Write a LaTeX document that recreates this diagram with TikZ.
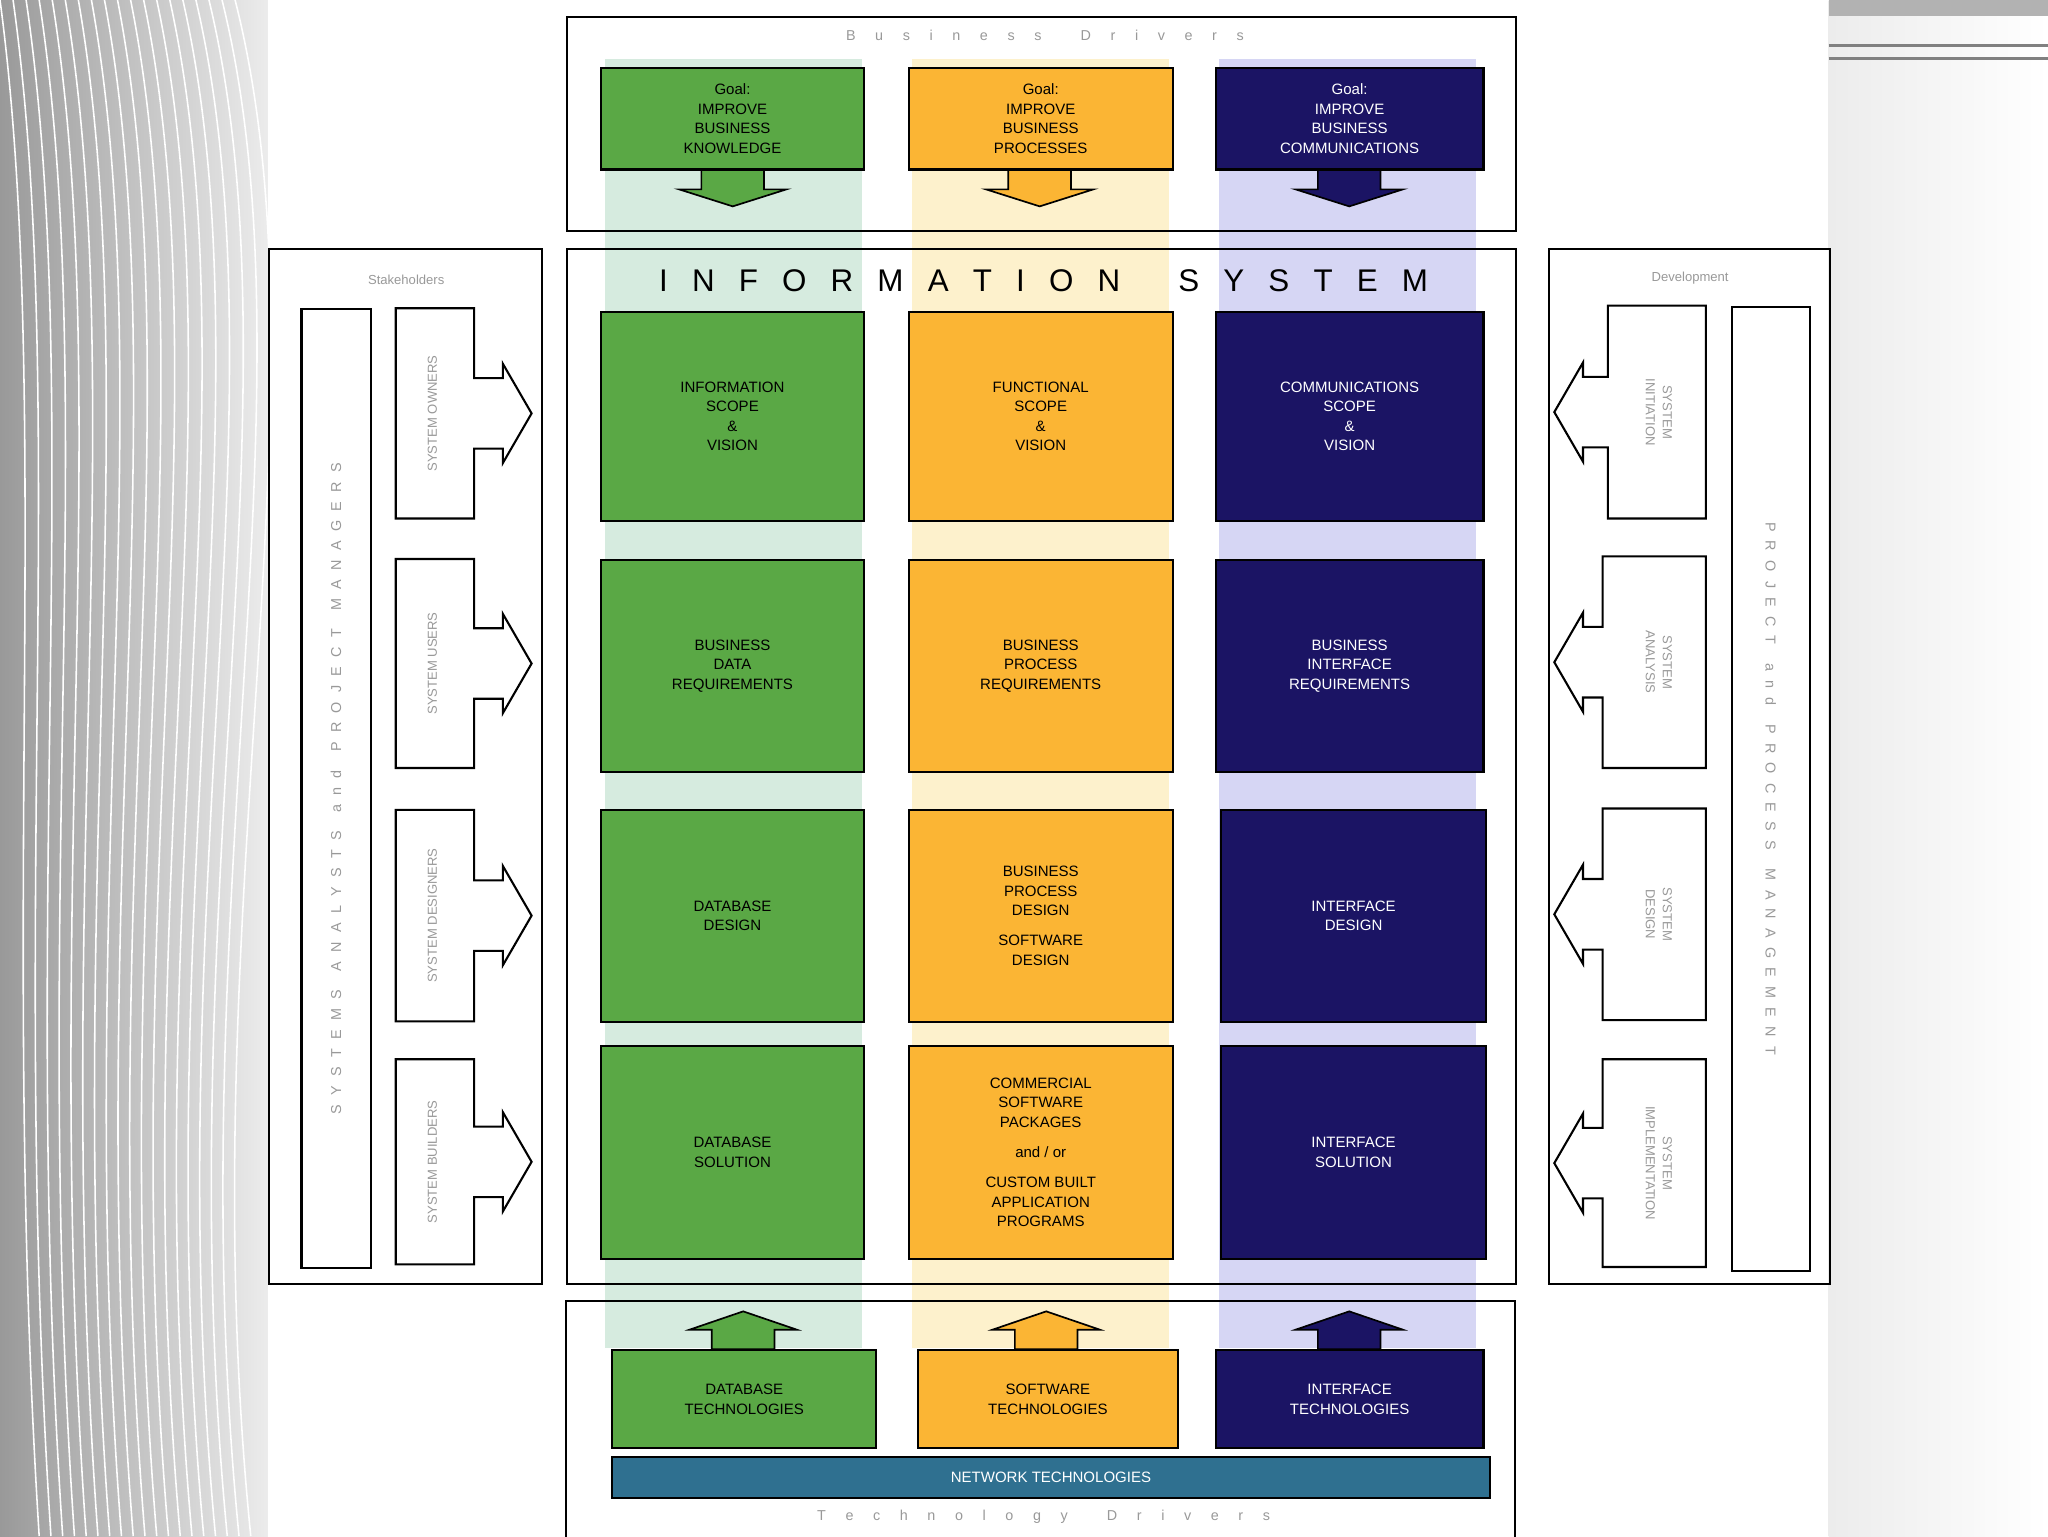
\documentclass[tikz,border=0pt]{standalone}
\usepackage{fontspec}
\setmainfont{Liberation Sans}
\newcommand\ga{\hspace{18.5pt}}
\newcommand\gb{\hspace{15pt}}
\newcommand\gc{\hspace{7.1pt}}
\begin{document}
\begin{tikzpicture}[x=1pt,y=-1pt,
  gcol/.style={fill=colG,draw=black,line width=1.6pt},
  ycol/.style={fill=colY,draw=black,line width=1.6pt},
  pcol/.style={fill=colP,draw=black,line width=1.6pt},
  frame/.style={draw=black,line width=1.6pt},
  lbl/.style={font=\fontsize{11.5}{15}\selectfont,align=center,text=black},
  wlbl/.style={font=\fontsize{11.5}{15}\selectfont,align=center,text=white},
  glbl/.style={font=\fontsize{10}{13}\selectfont,align=center,text=gray!80}]
\definecolor{colG}{HTML}{5AA845}
\definecolor{colY}{HTML}{FBB534}
\definecolor{colP}{HTML}{1B1464}
\definecolor{stG}{HTML}{D6EBDF}
\definecolor{stY}{HTML}{FDF1CC}
\definecolor{stP}{HTML}{D6D6F4}
\definecolor{net}{HTML}{2F7090}
\useasboundingbox (0,0) rectangle (1568,1176);
\fill[white,rounded corners=12pt] (0,0) rectangle (1568,1176);
\shade[left color=gray!80,right color=gray!15] (0,0) rectangle (205,1176);
\foreach \i in {0,...,18} {\draw[white,line width=1.2pt] (10*\i,0) .. controls (40+12*\i,300) and (8*\i,700) .. (30+9*\i,1176);}
\shade[left color=gray!15,right color=white] (1400,0) rectangle (1568,1176);
\fill[gray!60] (1400,0) rectangle (1568,12);
\draw[gray,line width=2pt] (1400,35) -- (1568,35) (1400,45) -- (1568,45);
% stripes
\fill[stG] (463,45) rectangle (660,1032);
\fill[stY] (698,45) rectangle (895,1032);
\fill[stP] (933,45) rectangle (1130,1032);
% business drivers
\node[frame,minimum width=727,minimum height=164,anchor=north west] (bd) at (433,12) {};
\node[glbl,font=\fontsize{11}{13}\selectfont] (bdl) at (800,27) {B\gb u\gb s\gb i\gb n\gb e\gb s\gb s\gb\gb D\gb r\gb i\gb v\gb e\gb r\gb s};
\newcommand\downarr[2]{\filldraw[#1,line width=1.3pt] (#2-24,129) -- (#2+24,129) -- (#2+24,145) -- (#2+41,145) -- (#2,158) -- (#2-41,145) -- (#2-24,145) -- cycle;}
\downarr{fill=colG}{561}
\downarr{fill=colY}{796}
\downarr{fill=colP}{1033}
\node[gcol,minimum width=202,minimum height=78,anchor=north west,lbl] (g1) at (459,51) {Goal:\\IMPROVE\\BUSINESS\\KNOWLEDGE};
\node[ycol,minimum width=202,minimum height=78,anchor=north west,lbl] (g2) at (695,51) {Goal:\\IMPROVE\\BUSINESS\\PROCESSES};
\node[pcol,minimum width=205,minimum height=78,anchor=north west,wlbl] (g3) at (930,51) {Goal:\\IMPROVE\\BUSINESS\\COMMUNICATIONS};
% information system
\node[frame,minimum width=727,minimum height=792,anchor=north west] (is) at (433,190) {};
\node[font=\fontsize{24}{26}\selectfont] (ist) at (799,215) {I\ga N\ga F\ga O\ga R\ga M\ga A\ga T\ga I\ga O\ga N\ga\hspace{26pt}S\ga Y\ga S\ga T\ga E\ga M};
\node[gcol,minimum width=202,minimum height=160,anchor=north west,lbl] (a1) at (459,238) {INFORMATION\\SCOPE\\\&\\VISION};
\node[ycol,minimum width=202,minimum height=160,anchor=north west,lbl] (b1) at (695,238) {FUNCTIONAL\\SCOPE\\\&\\VISION};
\node[pcol,minimum width=205,minimum height=160,anchor=north west,wlbl] (c1) at (930,238) {COMMUNICATIONS\\SCOPE\\\&\\VISION};
\node[gcol,minimum width=202,minimum height=162,anchor=north west,lbl] (a2) at (459,428) {BUSINESS\\DATA\\REQUIREMENTS};
\node[ycol,minimum width=202,minimum height=162,anchor=north west,lbl] (b2) at (695,428) {BUSINESS\\PROCESS\\REQUIREMENTS};
\node[pcol,minimum width=205,minimum height=162,anchor=north west,wlbl] (c2) at (930,428) {BUSINESS\\INTERFACE\\REQUIREMENTS};
\node[gcol,minimum width=202,minimum height=163,anchor=north west,lbl] (a3) at (459,619) {DATABASE\\DESIGN};
\node[ycol,minimum width=202,minimum height=163,anchor=north west,lbl] (b3) at (695,619) {BUSINESS\\PROCESS\\DESIGN\\[8pt]SOFTWARE\\DESIGN};
\node[pcol,minimum width=203,minimum height=163,anchor=north west,wlbl] (c3) at (934,619) {INTERFACE\\DESIGN};
\node[gcol,minimum width=202,minimum height=163,anchor=north west,lbl] (a4) at (459,800) {DATABASE\\SOLUTION};
\node[ycol,minimum width=202,minimum height=163,anchor=north west,lbl] (b4) at (695,800) {COMMERCIAL\\SOFTWARE\\PACKAGES\\[8pt]and / or\\[8pt]CUSTOM BUILT\\APPLICATION\\PROGRAMS};
\node[pcol,minimum width=203,minimum height=163,anchor=north west,wlbl] (c4) at (934,800) {INTERFACE\\SOLUTION};
% stakeholders
\node[frame,minimum width=209,minimum height=792,anchor=north west] (sh) at (205,190) {};
\node[glbl] (shl) at (311,214) {Stakeholders};
\node[frame,minimum width=53,minimum height=734,anchor=north west] (sa) at (230,236) {};
\node[glbl,rotate=90,font=\fontsize{11}{13}\selectfont] (sat) at (sa.center) {S\gc Y\gc S\gc T\gc E\gc M\gc S\gc\gc A\gc N\gc A\gc L\gc Y\gc S\gc T\gc S\gc\gc a\gc n\gc d\gc\gc P\gc R\gc O\gc J\gc E\gc C\gc T\gc\gc M\gc A\gc N\gc A\gc G\gc E\gc R\gc S};
\foreach \t/\b/\txt/\n in {236/397/SYSTEM OWNERS/s1,428/588/SYSTEM USERS/s2,620/782/SYSTEM DESIGNERS/s3,811/968/SYSTEM BUILDERS/s4}{
  \pgfmathsetmacro\m{(\t+\b)/2}
  \draw[frame,fill=white] (303,\t) -- (363,\t) -- (363,\m-27) -- (385,\m-27) -- (385,\m-38) -- (407,\m) -- (385,\m+38) -- (385,\m+27) -- (363,\m+27) -- (363,\b) -- (303,\b) -- cycle;
  \node[glbl,rotate=90] (\n) at (331,\m) {\txt};
}
% development
\node[frame,minimum width=215,minimum height=792,anchor=north west] (dv) at (1185,190) {};
\node[glbl] (dvl) at (1294,213) {Development};
\node[frame,minimum width=60,minimum height=738,anchor=north west] (pm) at (1325,234) {};
\node[glbl,rotate=-90,font=\fontsize{11}{13}\selectfont] (pmt) at (pm.center) {P\gc R\gc O\gc J\gc E\gc C\gc T\gc\gc a\gc n\gc d\gc\gc P\gc R\gc O\gc C\gc E\gc S\gc S\gc\gc M\gc A\gc N\gc A\gc G\gc E\gc M\gc E\gc N\gc T};
\foreach \t/\b/\l/\txt/\n in {234/397/1231/SYSTEM\\INITIATION/d1,426/588/1227/SYSTEM\\ANALYSIS/d2,619/781/1227/SYSTEM\\DESIGN/d3,811/970/1227/SYSTEM\\IMPLEMENTATION/d4}{
  \pgfmathsetmacro\m{(\t+\b)/2}
  \draw[frame,fill=white] (1306,\t) -- (\l,\t) -- (\l,\m-27) -- (1212,\m-27) -- (1212,\m-38) -- (1190,\m) -- (1212,\m+38) -- (1212,\m+27) -- (\l,\m+27) -- (\l,\b) -- (1306,\b) -- cycle;
  \node[glbl,rotate=-90,font=\fontsize{10}{13}\selectfont] (\n) at (1270,\m) {\txt};
}
% technology drivers
\draw[frame] (433,1182) -- (433,996) -- (1160,996) -- (1160,1182);
\newcommand\uparr[2]{\filldraw[#1,line width=1.3pt] (#2-24,1033) -- (#2+24,1033) -- (#2+24,1018) -- (#2+41,1018) -- (#2,1004) -- (#2-41,1018) -- (#2-24,1018) -- cycle;}
\uparr{fill=colG}{569}
\uparr{fill=colY}{801}
\uparr{fill=colP}{1033}
\node[gcol,minimum width=202,minimum height=75,anchor=north west,lbl] (t1) at (468,1033) {DATABASE\\TECHNOLOGIES};
\node[ycol,minimum width=199,minimum height=75,anchor=north west,lbl] (t2) at (702,1033) {SOFTWARE\\TECHNOLOGIES};
\node[pcol,minimum width=205,minimum height=75,anchor=north west,wlbl] (t3) at (930,1033) {INTERFACE\\TECHNOLOGIES};
\node[fill=net,draw=black,line width=1.3pt,minimum width=672,minimum height=31,anchor=north west,wlbl] (nt) at (468,1115) {NETWORK TECHNOLOGIES};
\node[glbl,font=\fontsize{11}{13}\selectfont] (tdl) at (799,1161) {T\gb e\gb c\gb h\gb n\gb o\gb l\gb o\gb g\gb y\gb\gb D\gb r\gb i\gb v\gb e\gb r\gb s};
\end{tikzpicture}
\end{document}
